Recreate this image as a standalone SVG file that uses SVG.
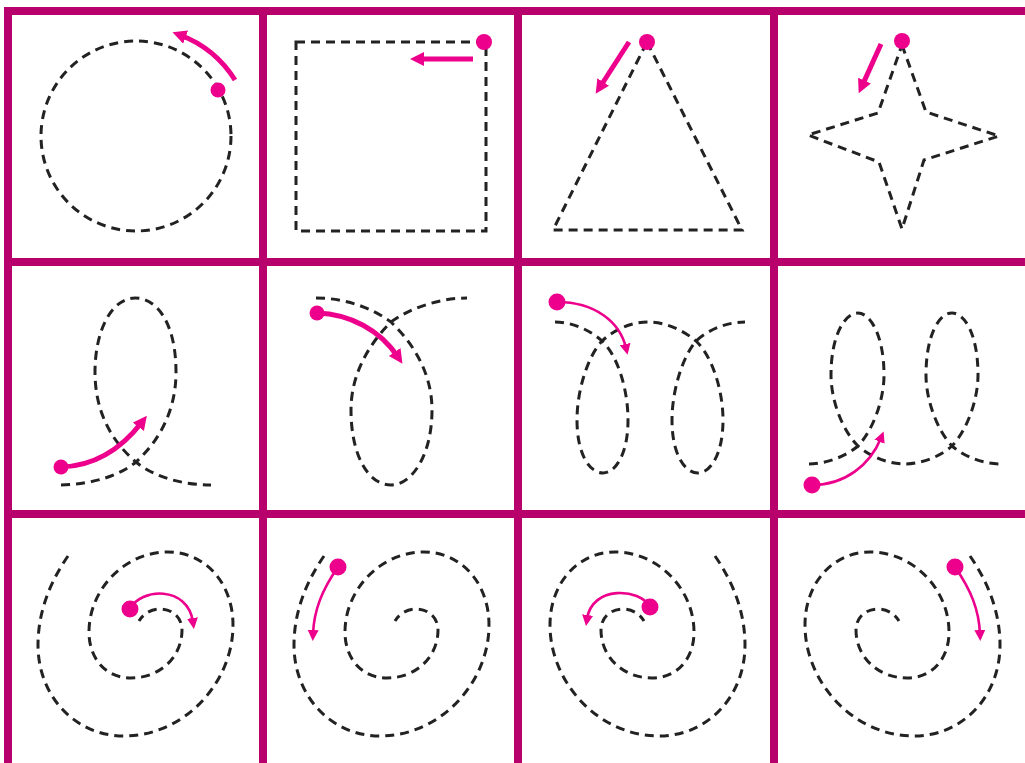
<svg xmlns="http://www.w3.org/2000/svg" width="1025" height="763" viewBox="0 0 1025 763">
<style>
.frame{stroke:#b8006c;stroke-width:8;fill:none}
.trace{fill:none;stroke:#222;stroke-width:3;stroke-dasharray:9 6}
.arw{fill:none;stroke:#ec008c;stroke-width:5;marker-end:url(#headL)}
.arwS{fill:none;stroke:#ec008c;stroke-width:2.6;marker-end:url(#headS)}
.dot{fill:#ec008c}
</style>
<defs>
<marker id="headL" markerUnits="userSpaceOnUse" markerWidth="16" markerHeight="16" refX="6" refY="7" orient="auto" viewBox="0 0 16 16">
<path d="M0,0 L14,7 L0,14 z" fill="#ec008c"/>
</marker>
<marker id="headS" markerUnits="userSpaceOnUse" markerWidth="13" markerHeight="13" refX="4" refY="5.5" orient="auto" viewBox="0 0 13 13">
<path d="M0,0 L11,5.5 L0,11 z" fill="#ec008c"/>
</marker>
<path id="spiral" d="M68,556 C 50,582 38,612 38,645 C 38,697 76,736 124,736 C 184,736 233,683 233,625 C 233,583 205,552 168,552 C 124,552 89,590 89,632 C 89,660 107,678 131,678 C 160,678 182,657 182,630 C 182,617 172,609 160,609 C 151,609 143,614 139,621"/>
</defs>
<rect width="1025" height="763" fill="#fff"/>
<g id="grid" class="frame">
<line x1="4" y1="11" x2="1025" y2="11"/>
<line x1="4" y1="262" x2="1025" y2="262"/>
<line x1="4" y1="514" x2="1025" y2="514"/>
<line x1="8" y1="7" x2="8" y2="763"/>
<line x1="263" y1="7" x2="263" y2="763"/>
<line x1="518" y1="7" x2="518" y2="763"/>
<line x1="774" y1="7" x2="774" y2="763"/>
</g>
<g id="cell-circle">
<circle class="trace" cx="136" cy="136" r="95"/>
<path class="arw" d="M235,80 A111,111 0 0 0 180,35"/>
<circle class="dot" cx="218" cy="90" r="7.5"/>
</g>
<g id="cell-square">
<rect class="trace" x="296" y="42" width="190" height="189"/>
<path class="arw" d="M473,59 L418,59"/>
<circle class="dot" cx="484" cy="42" r="8"/>
</g>
<g id="cell-triangle">
<path class="trace" d="M647,42 L742,230 L553,230 Z"/>
<path class="arw" d="M629,42 L600,87"/>
<circle class="dot" cx="647" cy="42" r="8"/>
</g>
<g id="cell-star">
<path class="trace" d="M902,45 L926,112 L999,136 L924,160 L902,229 L879,162 L808,135 L878,113 Z"/>
<path class="arw" d="M881,44 L862,86"/>
<circle class="dot" cx="902" cy="41" r="8"/>
</g>
<g id="cell-loop1">
<path class="trace" d="M61,485 C 95,484 120,475 136,462 C 160,440 176,410 176,372 C 176,325 158,298 135,298 C 112,298 95,330 95,372 C 95,410 110,440 136,462 C 155,478 185,485 211,485"/>
<path class="arw" d="M61,467 C 95,466 122,448 142,422"/>
<circle class="dot" cx="61" cy="467" r="7.5"/>
</g>
<g id="cell-loop2">
<path class="trace" d="M316,298 C 345,298 372,308 391,322 C 415,345 432,375 432,410 C 432,455 412,485 391,485 C 368,485 351,455 351,410 C 351,375 368,345 391,322 C 410,308 440,298 467,298"/>
<path class="arw" d="M317,313 C 350,314 380,330 398,357"/>
<circle class="dot" cx="317" cy="313" r="7.5"/>
</g>
<g id="cell-loop3">
<path class="trace" d="M555,322 C 572,322 590,330 602,341 C 618,356 628,390 628,420 C 628,455 615,473 603,473 C 590,473 577,455 577,420 C 577,390 588,356 602,341 C 615,329 632,322 648,322 C 665,322 683,330 696,341 C 712,356 723,390 723,420 C 723,455 710,473 698,473 C 685,473 672,455 672,420 C 672,390 683,356 696,341 C 709,329 728,322 745,322"/>
<path class="arwS" d="M557,302 C 595,302 620,322 626,348"/>
<circle class="dot" cx="557" cy="302" r="8.5"/>
</g>
<g id="cell-loop4">
<path class="trace" d="M809,464 C 825,464 845,457 858,446 C 873,430 884,400 884,375 C 884,335 870,313 858,313 C 845,313 831,335 831,375 C 831,400 842,430 858,446 C 872,458 890,464 905,464 C 920,464 940,457 952,446 C 967,430 978,400 978,375 C 978,335 965,313 952,313 C 939,313 926,335 926,375 C 926,400 937,430 952,446 C 966,458 985,464 1001,464"/>
<path class="arwS" d="M812,485 C 845,485 870,465 881,438"/>
<circle class="dot" cx="812" cy="485" r="8.5"/>
</g>
<g id="cell-spiral1">
<use href="#spiral" class="trace"/>
<path class="arwS" d="M130,609 C 140,588 188,585 193,622"/>
<circle class="dot" cx="130" cy="609" r="8.5"/>
</g>
<g id="cell-spiral2">
<use href="#spiral" class="trace" transform="translate(256,0)"/>
<path class="arwS" d="M338,567 C 322,590 314,610 313,634"/>
<circle class="dot" cx="338" cy="567" r="8.5"/>
</g>
<g id="cell-spiral3">
<use href="#spiral" class="trace" transform="matrix(-1,0,0,1,783,0)"/>
<path class="arwS" d="M650,607 C 640,588 592,585 587,619"/>
<circle class="dot" cx="650" cy="607" r="8.5"/>
</g>
<g id="cell-spiral4">
<use href="#spiral" class="trace" transform="matrix(-1,0,0,1,1038,0)"/>
<path class="arwS" d="M955,567 C 971,590 979,610 980,634"/>
<circle class="dot" cx="955" cy="567" r="8.5"/>
</g>
</svg>
